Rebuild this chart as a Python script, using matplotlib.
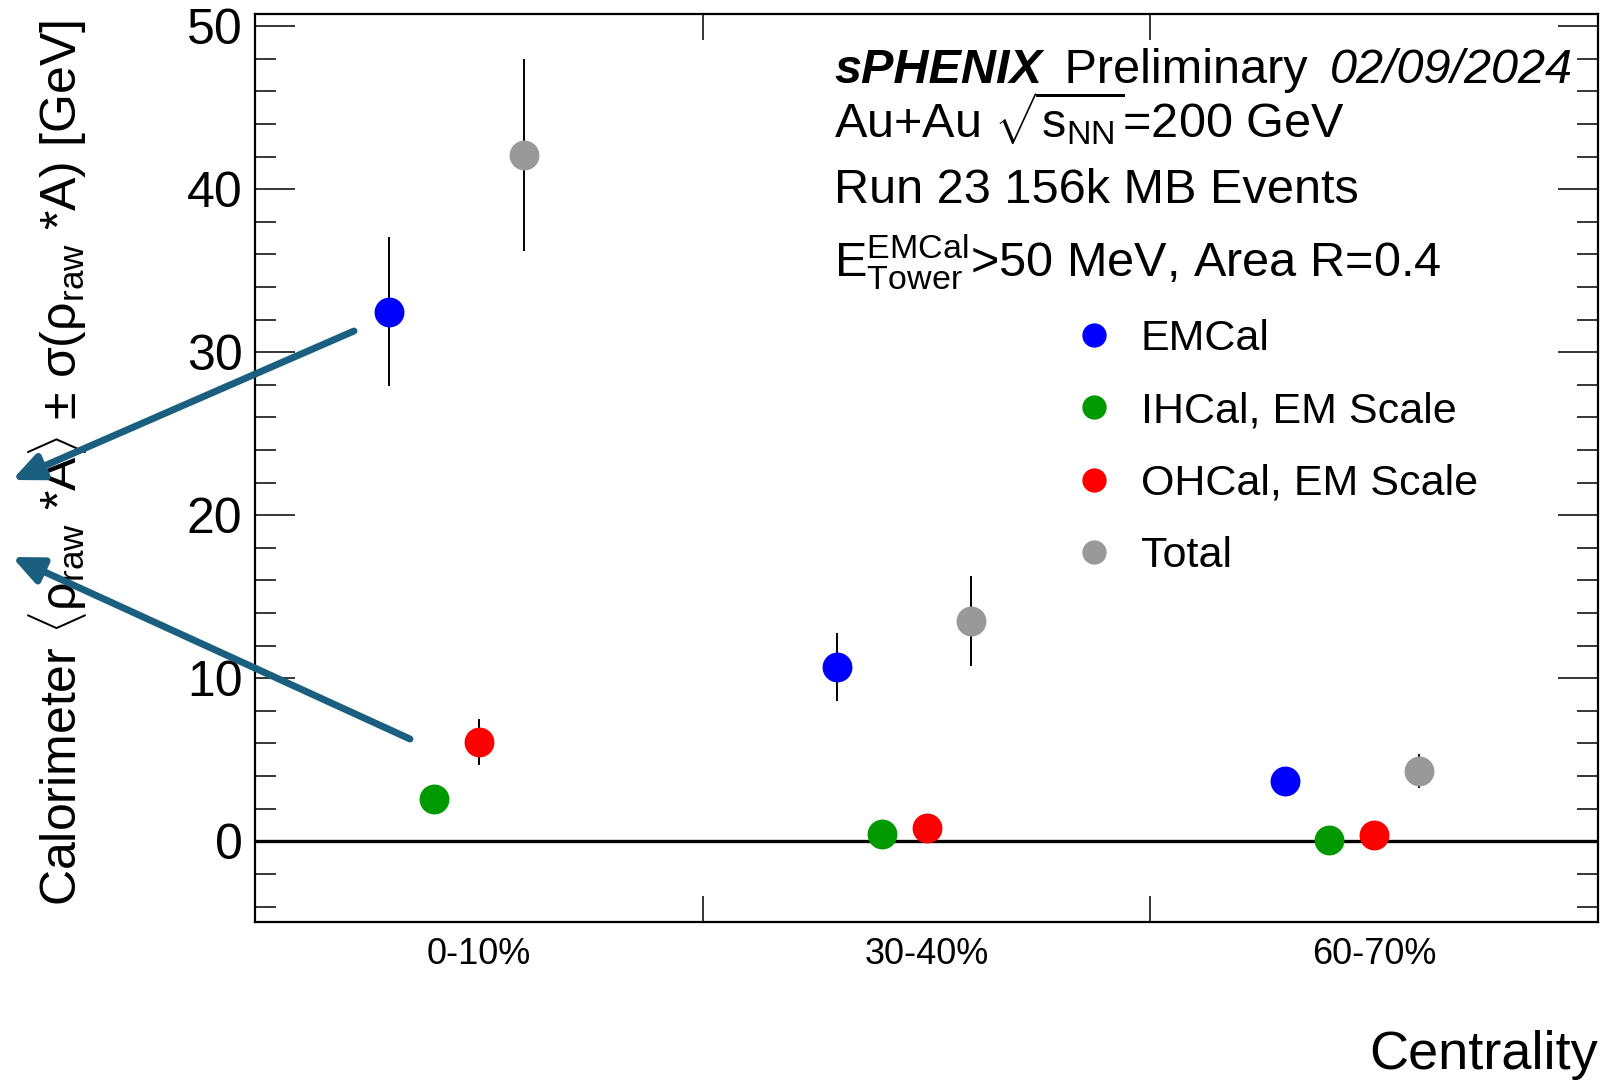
import matplotlib
matplotlib.use('Agg')
import matplotlib.pyplot as plt
from matplotlib.lines import Line2D
from matplotlib.ticker import MultipleLocator

plt.rcParams['font.family'] = ['Liberation Sans', 'DejaVu Sans']
plt.rcParams['mathtext.fontset'] = 'custom'
plt.rcParams['mathtext.rm'] = 'Liberation Sans'
plt.rcParams['mathtext.it'] = 'Liberation Sans:italic'
plt.rcParams['mathtext.bf'] = 'Liberation Sans:bold'

# datos
centralidad = ['0-10%', '30-40%', '60-70%']
series = ['EMCal', 'IHCal, EM Scale', 'OHCal, EM Scale', 'Total']
colores = ['#0000ff', '#009900', '#ff0000', '#999999']
desplaz = [-0.2, -0.1, 0.0, 0.1]

emcal = [32.5, 10.7, 3.7]
emcal_err = [4.6, 2.1, 0.7]
ihcal = [2.6, 0.45, 0.07]
ihcal_err = [0.5, 0.3, 0.2]
ohcal = [6.1, 0.8, 0.4]
ohcal_err = [1.4, 0.5, 0.3]
total = [42.1, 13.5, 4.3]
total_err = [5.9, 2.75, 1.05]

valores = [emcal, ihcal, ohcal, total]
errores = [emcal_err, ihcal_err, ohcal_err, total_err]

fig = plt.figure(figsize=(16.18, 10.8), dpi=100)
ax = fig.add_axes([255 / 1618, 1 - 922 / 1080, 1343 / 1618, 908 / 1080])

for i in range(len(series)):
    xs = [j + 0.5 + desplaz[i] for j in range(len(centralidad))]
    ax.errorbar(xs, valores[i], yerr=errores[i], fmt='o', color=colores[i],
                ecolor='black', elinewidth=1.4, capsize=0, markersize=20.5,
                zorder=3)

ax.axhline(0, color='black', lw=2.4, zorder=2)

ax.set_xlim(0, 3)
ax.set_ylim(-4.95, 50.75)

# ticks
ax.set_xticks([1, 2])
ax.set_xticklabels([])
ax.set_xticks([0.5, 1.5, 2.5], minor=True)
ax.set_xticklabels(centralidad, minor=True, fontsize=26)
ax.tick_params(axis='x', which='major', direction='in', length=19, width=1.1,
               top=True, bottom=True)
ax.tick_params(axis='x', which='minor', length=0, pad=11)
ax.yaxis.set_major_locator(MultipleLocator(10))
ax.yaxis.set_minor_locator(MultipleLocator(2))
ax.tick_params(axis='y', which='major', direction='in', length=29, width=1.1,
               left=True, right=True, labelsize=36, pad=9)
ax.tick_params(axis='y', which='minor', direction='in', length=15, width=1.1,
               left=True, right=True)
for s in ax.spines.values():
    s.set_linewidth(1.6)

ax.set_ylabel(r'Calorimeter $\langle\mathrm{\rho}_{\mathrm{raw}}$ *A$\rangle$ $\pm$ '
              r'$\mathrm{\sigma}$($\mathrm{\rho}_{\mathrm{raw}}$ *A) [GeV]', fontsize=36)
ax.yaxis.label.set_verticalalignment('center')
ax.yaxis.set_label_coords(-0.147, 0.505)

ax.set_xlabel('Centrality', fontsize=39)
ax.xaxis.label.set_horizontalalignment('right')
ax.xaxis.label.set_verticalalignment('baseline')
ax.xaxis.set_label_coords(1.0, -0.162)

# textos
fs = 35
def fx(px):
    return px / 1618
def fy(py):
    return 1 - py / 1080

t1 = fig.text(fx(834), fy(83), 'sPHENIX', fontsize=fs, fontweight='bold',
              fontstyle='italic', va='baseline')
ax.annotate(' Preliminary', xy=(1, 0), xycoords=t1, xytext=(9, 0),
            textcoords='offset pixels', fontsize=fs, va='bottom',
            annotation_clip=False)
fig.text(fx(1573), fy(83), '02/09/2024', fontsize=fs, fontstyle='italic',
         va='baseline', ha='right')
fig.text(fx(834), fy(137), r'Au+Au $\sqrt{\mathrm{s}_{\mathrm{NN}}}$=200 GeV',
         fontsize=fs, va='baseline')
fig.text(fx(834), fy(203), 'Run 23 156k MB Events', fontsize=fs, va='baseline')
fig.text(fx(834), fy(277),
         r'$\mathrm{E}_{\mathrm{Tower}}^{\mathrm{EMCal}}$>50 MeV, Area R=0.4',
         fontsize=fs, va='baseline')

# leyenda
handles = [Line2D([], [], marker='o', ls='none', color=c, markersize=16.5)
           for c in colores]
ax.legend(handles, series, loc='upper left', bbox_to_anchor=(fx(1072), fy(319)),
          bbox_transform=fig.transFigure, frameon=False, fontsize=31,
          handlelength=1.0, handletextpad=0.6, labelspacing=0.75, borderpad=0,
          borderaxespad=0)

# flechas
color_flecha = '#1b5f80'
for (x0, y0), (x1, y1) in [((354, 331), (12, 480)), ((410, 739), (12, 557))]:
    ax.annotate('', xy=(fx(x1), fy(y1)), xycoords='figure fraction',
                xytext=(fx(x0), fy(y0)), textcoords='figure fraction',
                arrowprops=dict(arrowstyle='-|>,head_length=1.8,head_width=0.8',
                                color=color_flecha, lw=5, shrinkA=0, shrinkB=0),
                annotation_clip=False, zorder=5)

plt.savefig('out.png', dpi=100)
